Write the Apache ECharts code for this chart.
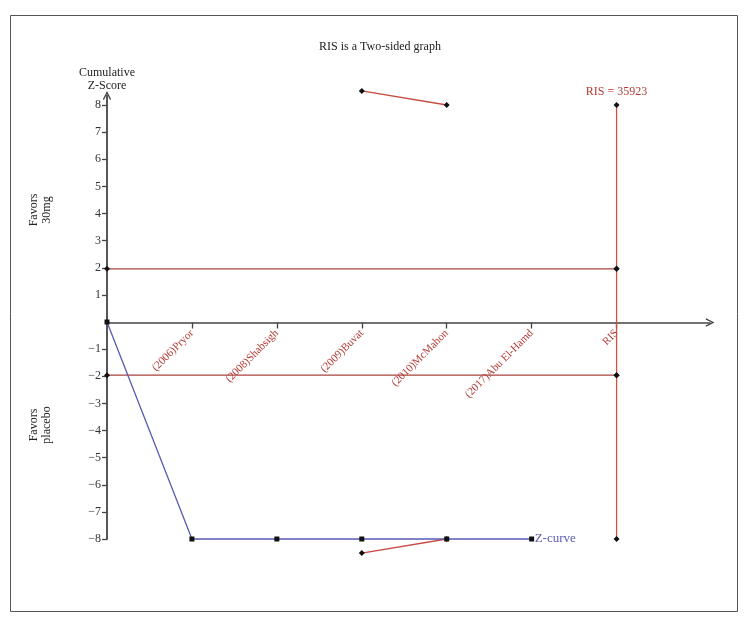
<!DOCTYPE html>
<html><head><meta charset="utf-8">
<script src="https://cdn.jsdelivr.net/npm/echarts@6/dist/echarts.min.js"></script>
<style>html,body{margin:0;padding:0;background:#fff}#c{width:753px;height:629px}</style>
</head><body><div id="c"></div>
<script>
// ---- data ----
const categories = ['(2006)Pryor','(2008)Shabsigh','(2009)Buvat','(2010)McMahon','(2017)Abu El-Hamd','RIS'];
const zCurve = [0, -8, -8, -8, -8, -8];           // at positions 0 (origin) .. 5
const upperBoundary = [8.52, 8.0];                 // at Buvat, McMahon
const lowerBoundary = [-8.52, -8.0];
const boundaryStudies = ['(2009)Buvat','(2010)McMahon'];
const conventional = 1.96;
const risValue = 35923;
const risRange = [8, -8];
const yTicks = [-8,-7,-6,-5,-4,-3,-2,-1,1,2,3,4,5,6,7,8];

const pos = c => categories.indexOf(c) + 1;
const risX = pos('RIS');

const serif = 'Liberation Serif';
const RED = '#b23a36', DARKRED = '#a8423c', RISRED = '#cc5240', BLUE = '#5a5ab4', AX = '#444';
const arrow = 'path://M0,10 L5,0 L10,10 L8.6,10.8 L5,3.2 L1.4,10.8 Z';
const blackDot = {color:'#111'};

const Y0 = 322.5, YMIN = 539, YUNIT = (539 - 105) / 16;

const chart = echarts.init(document.getElementById('c'));
chart.setOption({
  animation:false,
  backgroundColor:'#fff',
  textStyle:{fontFamily:serif},
  graphic:[
    {type:'rect', shape:{x:10.5,y:15.5,width:727,height:596}, style:{fill:'none', stroke:'#555', lineWidth:1}, silent:true},
    {type:'text', x:380, y:47, style:{text:'RIS is a Two-sided graph', font:'12px "Liberation Serif"', fill:'#222', align:'center', verticalAlign:'middle'}},
    {type:'text', x:107, y:79, style:{text:'Cumulative\nZ-Score', font:'12px "Liberation Serif"', fill:'#222', align:'center', verticalAlign:'middle', lineHeight:13}},
    {type:'text', x:40, y:210, rotation:Math.PI/2, style:{text:'Favors\n30mg', font:'12px "Liberation Serif"', fill:'#222', align:'center', verticalAlign:'middle', lineHeight:13}},
    {type:'text', x:40, y:425, rotation:Math.PI/2, style:{text:'Favors\nplacebo', font:'12px "Liberation Serif"', fill:'#222', align:'center', verticalAlign:'middle', lineHeight:13}}
  ],
  grid:{left:107, right:43, top:539 - 16.35*YUNIT, bottom:629 - 539, containLabel:false},
  xAxis:{
    type:'value', min:0, max:7.1, interval:1,
    offset:-(YMIN - Y0),
    splitLine:{show:false},
    axisLine:{onZero:false, lineStyle:{color:AX, width:1.6}, symbol:['none', arrow], symbolSize:[13,9], symbolOffset:[0,0]},
    axisTick:{show:true, customValues:categories.map((c,i)=>i+1), length:6, lineStyle:{color:AX, width:1.3}},
    axisLabel:{customValues:categories.map((c,i)=>i+1), rotate:45, margin:9, color:RED, fontFamily:serif, fontSize:11,
      formatter:v=>categories[Math.round(v)-1]||''}
  },
  yAxis:{
    type:'value', min:-8, max:8.35, interval:1,
    splitLine:{show:false},
    axisLine:{lineStyle:{color:AX, width:1.8}, symbol:['none', arrow], symbolSize:[13,9], symbolOffset:[0,0]},
    axisTick:{show:true, customValues:yTicks, length:5, lineStyle:{color:AX, width:1.3}},
    axisLabel:{customValues:yTicks, color:'#333', fontFamily:serif, fontSize:12, margin:6,
      formatter:v=>v<0?('\u2212'+(-v)):String(v)}
  },
  series:[
    {name:'upper conv', type:'line', clip:false, data:[[0,conventional],[risX,conventional]], lineStyle:{color:DARKRED,width:1.3},
     symbol:'diamond', symbolSize:6, itemStyle:blackDot, z:3},
    {name:'lower conv', type:'line', clip:false, data:[[0,-conventional],[risX,-conventional]], lineStyle:{color:DARKRED,width:1.3},
     symbol:'diamond', symbolSize:6, itemStyle:blackDot, z:3},
    {name:'RIS', type:'line', clip:false, data:[[risX,risRange[0]],[risX,conventional],[risX,-conventional],[risX,risRange[1]]],
     lineStyle:{color:RISRED,width:1.3}, symbol:'diamond', symbolSize:6, itemStyle:blackDot, z:3,
     label:{show:true, position:'top', distance:4, color:RED, fontFamily:serif, fontSize:12,
       formatter:p=>p.dataIndex===0?('RIS = '+risValue):''}},
    {name:'upper boundary', type:'line', clip:false, data:boundaryStudies.map((c,i)=>[pos(c),upperBoundary[i]]),
     lineStyle:{color:'#c84a40',width:1.3}, symbol:'diamond', symbolSize:6, itemStyle:blackDot, z:3},
    {name:'lower boundary', type:'line', clip:false, data:boundaryStudies.map((c,i)=>[pos(c),lowerBoundary[i]]),
     lineStyle:{color:'#c84a40',width:1.3}, symbol:'diamond', symbolSize:6, itemStyle:blackDot, z:3},
    {name:'Z-curve', type:'line', clip:false, data:zCurve.map((v,i)=>[i,v]), lineStyle:{color:BLUE,width:1.3},
     symbol:'rect', symbolSize:5, itemStyle:blackDot, z:4,
     endLabel:{show:true, formatter:'Z-curve', color:BLUE, fontFamily:serif, fontSize:13, distance:3}}
  ]
});
</script></body></html>
